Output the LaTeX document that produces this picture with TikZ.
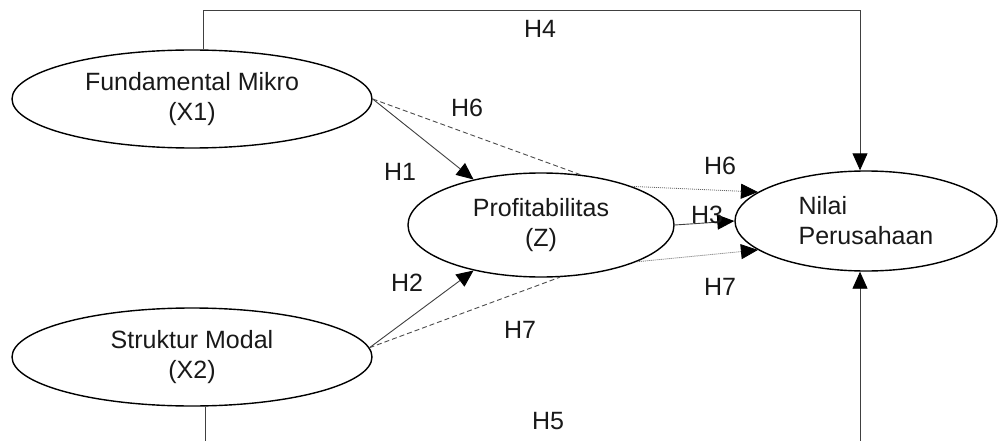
\documentclass[tikz,border=0pt]{standalone}
\usepackage{fontspec}
\setmainfont{Liberation Sans}
\usetikzlibrary{shapes.geometric,arrows.meta}
\begin{document}
\begin{tikzpicture}[x=1pt,y=-1pt,
  every node/.style={font=\fontsize{25}{30}\selectfont, text=black!90},
  var/.style={ellipse, draw=black, line width=1.4pt, inner sep=0pt, align=center},
  conn/.style={draw=black!75, line width=0.9pt},
  tip/.style={-{Triangle[length=17pt,width=15pt,color=black]}},
  dsh/.style={draw=black!70, line width=0.9pt, dash pattern=on 5pt off 3pt},
  dot/.style={draw=black!60, line width=0.8pt, dash pattern=on 1pt off 1pt},
  lbl/.style={inner sep=0pt}]
\clip (0,0) rectangle (998,441);
\fill[white] (0,0) rectangle (998,441);

\node[var, minimum width=360pt, minimum height=98pt] (x1) at (192,99) {Fundamental Mikro\\(X1)};
\node[var, minimum width=360pt, minimum height=98pt] (x2) at (192,357) {Struktur Modal\\(X2)};
\node[var, minimum width=266pt, minimum height=104pt] (z) at (541,225) {Profitabilitas\\(Z)};
\node[var, minimum width=262pt, minimum height=100pt, align=left] (nv) at (866,221) {Nilai\\Perusahaan};

\coordinate (t1) at (203,10);
\coordinate (t2) at (860,10);
\coordinate (b1) at (205,450);
\coordinate (b2) at (860,450);

% H4 and H5
\draw[conn, tip] (t1 |- x1.north) -- (t1) -- (t2) -- (t2 |- nv.north);
\draw[conn, tip] (b1 |- x2.south) -- (b1) -- (b2) -- (b2 |- nv.south);

% H1, H2
\draw[conn, tip] (x1.east) -- (z.146);
\draw[conn, tip] (x2.3) -- (z.214);
% H3
\draw[conn, tip] (z.east) -- (nv.west);
% mediation paths
\draw[dsh] (x1.east) -- (z.52);
\draw[dsh] (x2.3) -- (z.290);
\draw[dot, tip] (z.23) -- (nv.165);
\draw[dot, tip] (z.339) -- (nv.195);

\node[lbl] (h4) at (540,29) {H4};
\node[lbl] (h6a) at (467,108) {H6};
\node[lbl] (h1) at (400,172) {H1};
\node[lbl] (h6b) at (720,166) {H6};
\node[lbl] (h3) at (707,215) {H3};
\node[lbl] (h2) at (407,283) {H2};
\node[lbl] (h7b) at (720,287) {H7};
\node[lbl] (h7a) at (520,330) {H7};
\node[lbl] (h5) at (548,421) {H5};
\end{tikzpicture}
\end{document}
